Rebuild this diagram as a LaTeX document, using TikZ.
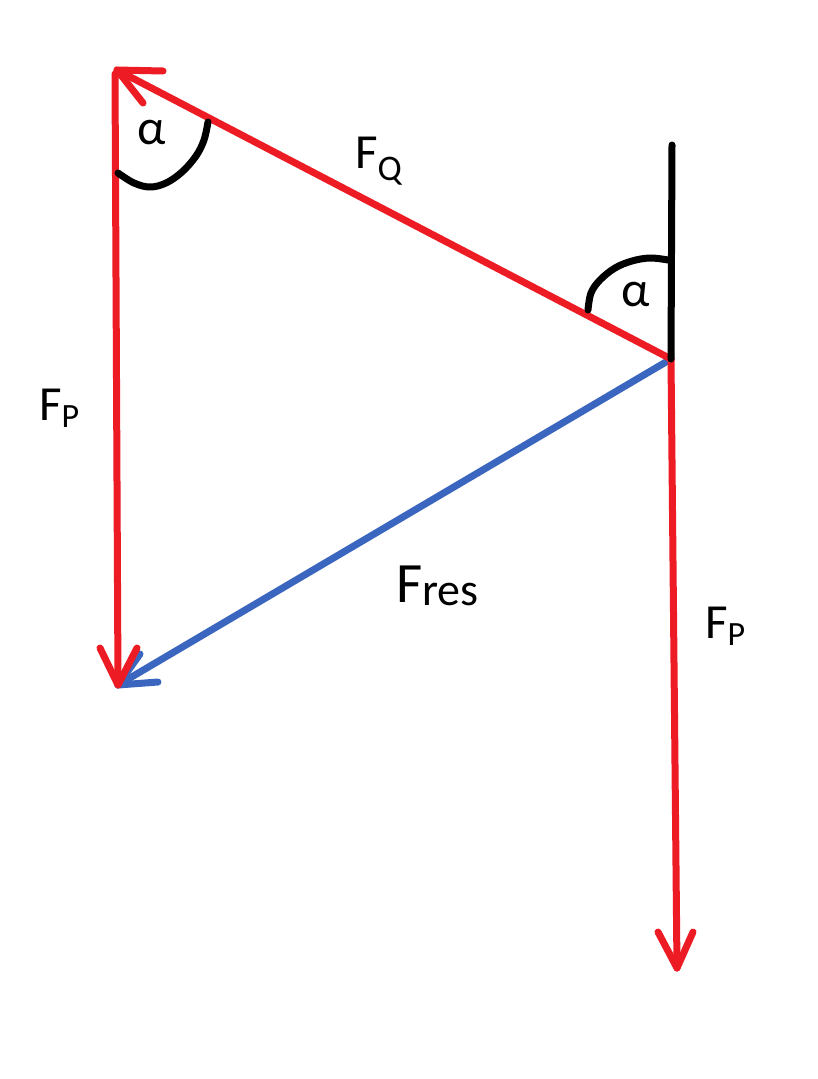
\documentclass[tikz,border=0pt]{standalone}
\usepackage{fontspec}
\setmainfont{Carlito}
\definecolor{pred}{RGB}{237,28,36}
\definecolor{pblue}{RGB}{58,102,192}
\begin{document}
\begin{tikzpicture}[x=1pt,y=-1pt,
  stroke/.style={line width=7pt,line cap=round,line join=round},
  redline/.style={stroke,draw=pred},
  blueline/.style={stroke,draw=pblue},
  blackline/.style={stroke,draw=black},
  lbl/.style={inner sep=0pt,anchor=base west,font=\fontsize{49}{49}\selectfont}]
\useasboundingbox (0,0) rectangle (817,1079);
\fill[white] (0,0) rectangle (817,1079);
% key points
\coordinate (tl) at (117,70);
\coordinate (tlstart) at (115,74);
\coordinate (bl) at (118,685);
\coordinate (rc) at (671,359);
\coordinate (rtop) at (672,145);
\coordinate (rbot) at (677,968);
% arrowhead barbs
\coordinate (ta1) at (163,71);
\coordinate (ta2) at (143,103);
\coordinate (ba1) at (100,648);
\coordinate (ba2) at (137,648);
\coordinate (bb1) at (140,654);
\coordinate (bb2) at (158,682);
\coordinate (ra1) at (658,932);
\coordinate (ra2) at (693,932);
% blue resultant
\draw[blueline] (rc) -- (bl);
\draw[blueline] (bb1) -- (bl) -- (bb2);
% red forces
\draw[redline] (rc) -- (tl);
\draw[redline] (ta1) -- (tl) -- (ta2);
\draw[redline] (tlstart) -- (bl);
\draw[redline] (ba1) -- (bl) -- (ba2);
\draw[redline] (rc) -- (rbot);
\draw[redline] (ra1) -- (rbot) -- (ra2);
% black reference line
\draw[blackline] (rtop) -- (rc);
% angle arcs
\draw[blackline] plot[smooth,tension=0.6] coordinates {(118,173) (134,183) (150,187) (166,183) (182,172) (196,156) (204,140) (208,122)};
\draw[blackline] plot[smooth,tension=0.6] coordinates {(588,310) (591,293) (600,280) (615,268) (632,261) (650,258) (668,260)};
% labels
\node[inner sep=0pt,font=\fontsize{50}{50}\selectfont] (a1) at (152,133) {α};
\node[inner sep=0pt,font=\fontsize{50}{50}\selectfont] (a2) at (636,295) {α};
\node[lbl] (fq) at (355,168) {F{\fontsize{36}{36}\selectfont\raisebox{-12pt}{Q}}};
\node[lbl] (fp1) at (39,420) {F{\fontsize{34}{34}\selectfont\raisebox{-7pt}{P}}};
\node[lbl,font=\fontsize{57}{57}\selectfont] (fres) at (396,602) {F{\fontsize{46}{46}\selectfont\raisebox{-3pt}{res}}};
\node[lbl] (fp2) at (705,638) {F{\fontsize{34}{34}\selectfont\raisebox{-7pt}{P}}};
\end{tikzpicture}
\end{document}
